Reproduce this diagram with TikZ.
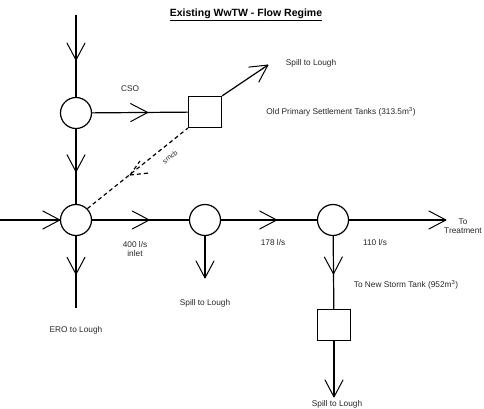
\documentclass[tikz,border=0pt]{standalone}
\usepackage{fontspec}
\setmainfont{Liberation Sans}
\usetikzlibrary{positioning,arrows.meta,decorations.markings}
\tikzset{
  pipe/.style={line width=1.2pt},
  junc/.style={draw,circle,line width=1.2pt,minimum size=31pt,inner sep=0pt},
  tank/.style={draw,rectangle,line width=1.2pt,minimum width=33pt,minimum height=31pt,inner sep=0pt},
  flowmid/.style={postaction={decorate},decoration={markings,
      mark=at position #1 with {\draw[line width=1pt,line cap=round,line join=round,solid] (-17pt,-9pt) -- (0pt,0pt) -- (-17pt,9pt);}}},
  link/.style={line width=1.2pt,dashed,dash pattern=on 4pt off 3pt},
  lab/.style={font=\fontsize{8.3}{9.5}\selectfont,text=black!85},
  ttl/.style={font=\fontsize{10.5}{12}\selectfont\bfseries}
}
\begin{document}
\begin{tikzpicture}[x=1pt,y=-1pt]
  \useasboundingbox (0,0) rectangle (484,409);
  \node[ttl] (title) at (246,15) {\underline{Existing WwTW - Flow Regime}};
  % junctions and tanks
  \node[junc] (cso) at (76,113) {};
  \node[junc] (inlet) at (76,220) {};
  \node[junc] (spl) at (205,220) {};
  \node[junc] (split) at (333,220) {};
  \node[tank] (oldtank) at (205,112) {};
  \node[tank] (newtank) at (334,325) {};
  % free ends
  \coordinate (topin) at (76,15);
  \coordinate (leftin) at (0,220);
  \coordinate (oldspill) at (268,65);
  \coordinate (treat) at (446,220);
  \coordinate (ero) at (76,308);
  \coordinate (splout) at (205,278);
  \coordinate (newspill) at (334,397);
  % pipes
  \draw[pipe,flowmid=0.55] (topin) -- (cso);
  \draw[pipe,flowmid=0.58] (cso) -- (oldtank);
  \draw[pipe,flowmid=0.57] (cso) -- (inlet);
  \draw[pipe,flowmid=0.999] (leftin) -- (inlet);
  \draw[pipe,flowmid=0.59] (inlet) -- (spl);
  \draw[pipe,flowmid=0.58] (spl) -- (split);
  \draw[pipe,flowmid=0.999] (split) -- (treat);
  \draw[pipe,flowmid=0.53] (inlet) -- (ero);
  \draw[pipe,flowmid=0.999] (spl) -- (splout);
  \draw[pipe,flowmid=0.52] (split) -- (newtank);
  \draw[pipe,flowmid=0.999] (newtank) -- (newspill);
  \draw[pipe,flowmid=0.999] (oldtank.north east) -- (oldspill);
  % dashed link
  \draw[link] (inlet.north east) -- (oldtank.south west);
  \coordinate (fork) at (130,175);
  \draw[link] (fork) -- (140,161);
  \draw[link] (fork) -- (149,173);
  \node[lab,rotate=38,font=\fontsize{7}{8}\selectfont] (smcb) at (170,157) {smcb};
  % labels
  \node[lab] (csolab) at (130,89) {CSO};
  \node[lab] (spilla) at (311,63) {Spill to Lough};
  \node[lab] (oldlab) at (341,112) {Old Primary Settlement Tanks (313.5m\textsuperscript{3})};
  \node[lab,align=center] (inletlab) at (135,249) {400 l/s\\inlet};
  \node[lab] (q178) at (273,243) {178 l/s};
  \node[lab] (q110) at (375,243) {110 l/s};
  \node[lab,align=center] (treatlab) at (463,226) {To\\Treatment};
  \node[lab] (erolab) at (76,330) {ERO to Lough};
  \node[lab] (spillb) at (205,303) {Spill to Lough};
  \node[lab] (newlab) at (406,285) {To New Storm Tank (952m\textsuperscript{3})};
  \node[lab] (spillc) at (337,404) {Spill to Lough};
\end{tikzpicture}
\end{document}
